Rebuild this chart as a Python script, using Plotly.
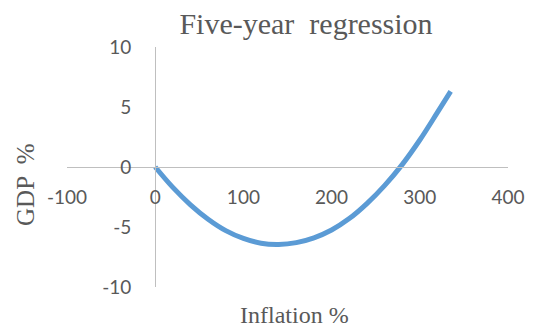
import plotly.graph_objects as go

# Fitted regression curve: inflation (%) vs GDP (%)
inflation = [0, 20, 40, 60, 80, 100, 120, 140, 160, 180, 200, 220, 240, 260, 280, 300, 320, 335]
gdp = [0, -1.7, -3.15, -4.35, -5.3, -5.95, -6.35, -6.45, -6.3, -5.9, -5.25, -4.3, -3.05, -1.55, 0.2, 2.25, 4.55, 6.3]

x_ticks = [-100, 0, 100, 200, 300, 400]
y_ticks = [-10, -5, 0, 5, 10]

title_text = "Five-year  regression"
x_title = "Inflation %"
y_title = "GDP  %"

grey = "#595959"
axis_grey = "#BFBFBF"
serif = "Liberation Serif"
sans = "Lato"

W, H = 537, 329
ML, MR, MT, MB = 67, 19, 47, 42
w_plot = W - ML - MR
h_plot = H - MT - MB

fig = go.Figure()
fig.add_trace(go.Scatter(
    x=inflation, y=gdp, mode="lines",
    line=dict(color="#5B9BD5", width=5, shape="spline", smoothing=1),
    hoverinfo="skip",
))

fig.update_layout(
    width=W, height=H,
    margin=dict(l=ML, r=MR, t=MT, b=MB),
    paper_bgcolor="white", plot_bgcolor="white",
    showlegend=False,
    title=dict(text=title_text, x=306 / W, xanchor="center", xref="container",
               y=1 - 23 / H, yanchor="middle", yref="container",
               font=dict(family=serif, size=30, color=grey)),
    xaxis=dict(range=[-100, 400], tickvals=x_ticks, ticktext=[str(v) for v in x_ticks],
               showgrid=False, zeroline=False, showline=True, linecolor=axis_grey, linewidth=1,
               anchor="free", position=0.5, ticks="", ticklabelstandoff=13,
               tickfont=dict(family=sans, size=19, color=grey)),
    yaxis=dict(range=[-10, 10], tickvals=y_ticks, ticktext=[str(v) for v in y_ticks],
               showgrid=False, zeroline=False, showline=True, linecolor=axis_grey, linewidth=1,
               anchor="free", position=0.2, ticks="", ticklabelstandoff=20,
               tickfont=dict(family=sans, size=19, color=grey)),
    annotations=[
        dict(text=x_title, xref="paper", yref="paper",
             x=(300 - ML) / w_plot, y=(H - MB - 315) / h_plot,
             xanchor="center", yanchor="middle", showarrow=False,
             font=dict(family=serif, size=24, color=grey)),
        dict(text=y_title, xref="paper", yref="paper",
             x=(24 - ML) / w_plot, y=(H - MB - 185) / h_plot,
             xanchor="center", yanchor="middle", showarrow=False, textangle=-90,
             font=dict(family=serif, size=25, color=grey)),
    ],
)

fig.write_html("out.html")
